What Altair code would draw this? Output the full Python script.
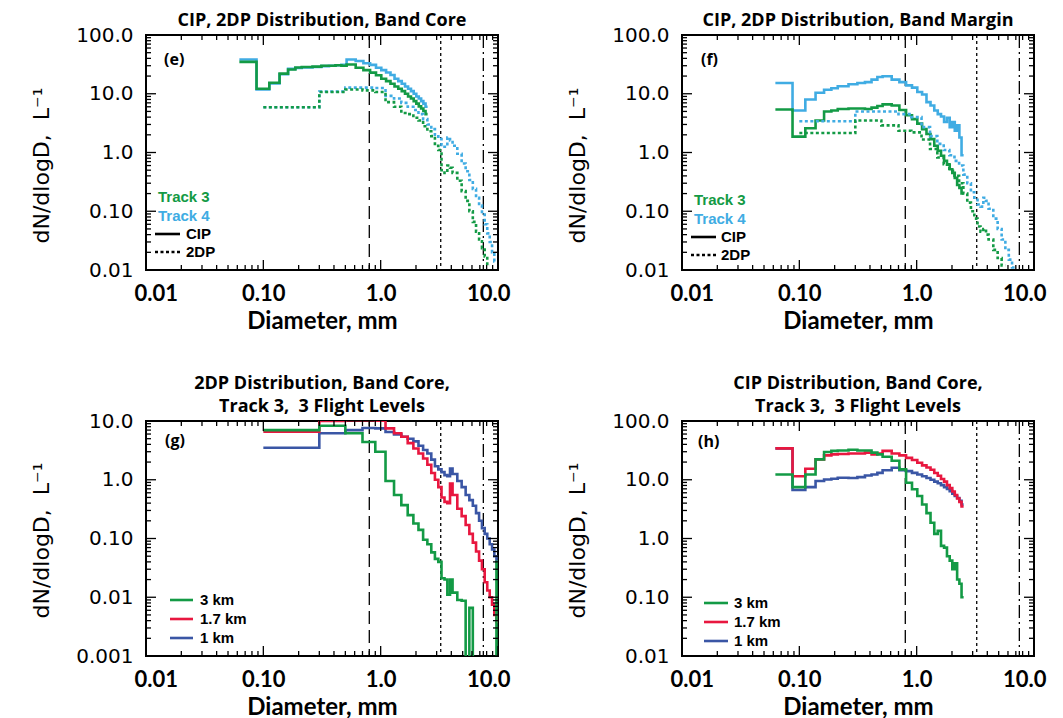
import altair as alt
import pandas as pd

# ---------------- data ----------------
CIP_EDGES = [0.0625, 0.0875, 0.1125, 0.1375, 0.1625, 0.1875, 0.2125, 0.2625, 0.3125, 0.3625,
             0.4125, 0.4625, 0.5125, 0.6125, 0.7125, 0.8125, 0.9125, 1.0125, 1.1125, 1.2125,
             1.3125, 1.4125, 1.5125, 1.6125, 1.7125, 1.8125, 1.9125, 2.0125, 2.1125, 2.2125,
             2.3125, 2.4125, 2.5125]
DP_EDGES = [0.1, 0.3, 0.5, 0.7, 0.9, 1.1, 1.3, 1.5, 1.7, 1.9, 2.1, 2.3, 2.5, 2.7, 2.9, 3.1,
            3.3, 3.5, 3.7, 3.9, 4.1, 4.5, 4.9, 5.3, 5.7, 6.1, 6.5, 6.9, 7.3, 7.7, 8.1, 8.5,
            8.9, 9.3, 9.7, 10.1]

# (e) band core
E_CIP_T3 = [34.9, 12.2, 15.4, 22.0, 25.8, 28.0, 28.5, 29.0, 30.0, 30.0, 30.5, 30.0, 31.4, 27.7,
            25.2, 22.9, 20.6, 18.0, 16.4, 14.8, 13.3, 12.2, 11.1, 10.0, 9.0, 8.3, 7.5, 6.8, 6.1,
            5.6, 5.1, 4.5]
E_CIP_T4 = [38.3, 11.8, 15.0, 21.5, 26.5, 27.5, 28.0, 28.5, 29.5, 30.0, 30.5, 31.0, 38.3, 36.0,
            33.0, 31.0, 27.7, 25.2, 23.0, 20.8, 18.0, 16.4, 14.8, 13.3, 12.2, 11.1, 10.0, 9.0,
            8.3, 7.5, 6.8, 6.0]
E_2DP_T3 = [5.9, 10.7, 11.8, 11.4, 10.7, 7.2, 6.0, 4.7, 4.5, 3.9, 3.5, 2.8, 2.3, 1.9, 1.3, 1.1,
            0.5, 0.45, 0.6, 0.55, 0.45, 0.33, 0.22, 0.15, 0.10, 0.066, 0.045, 0.033, 0.0235,
            0.017, 0.012, None, None, None, None]
E_2DP_T4 = [5.9, 10.9, 12.7, 12.7, 12.5, 9.2, 8.3, 7.0, 6.0, 5.3, 4.5, 3.7, 3.0, 2.5, 2.0, 1.7,
            1.35, 1.25, 1.8, 1.6, 1.3, 0.95, 0.65, 0.48, 0.34, 0.24, 0.17, 0.125, 0.088, 0.06,
            0.042, 0.03, 0.02, 0.014, None]

# (f) band margin
F_CIP_T3 = [5.4, 1.86, 2.58, 3.5, 5.0, 5.2, 5.5, 5.6, 5.6, 5.5, 5.8, 6.2, 6.6, 6.3, 5.3, 4.3,
            3.7, 3.1, 2.5, 2.06, 1.69, 1.3, 1.07, 0.88, 0.72, 0.62, 0.52, 0.45, 0.37, 0.28,
            0.25, 0.2]
F_CIP_T4 = [15.2, 5.2, 8.0, 10.4, 11.7, 12.4, 13.4, 14.5, 15.2, 15.8, 17.4, 19.3, 19.8, 17.4,
            15.8, 13.9, 12.7, 10.7, 9.7, 7.2, 6.3, 5.2, 4.5, 4.1, 3.3, 3.9, 2.7, 3.3, 2.35, 2.9,
            1.8, 0.9]
F_2DP_T3 = [2.15, 3.5, 2.9, 2.35, 2.2, 1.66, 1.15, 0.82, 0.63, 0.49, 0.4, 0.3, 0.2, 0.14, 0.1,
            0.075, 0.055, 0.045, 0.05, 0.04, 0.033, 0.022, 0.016, 0.012, None, None, None,
            None, None, None, None, None, None, None, None]
F_2DP_T4 = [3.4, 5.0, 5.0, 4.5, 4.0, 2.7, 1.9, 1.4, 1.1, 0.9, 0.72, 0.6, 0.42, 0.3, 0.21, 0.17,
            0.13, 0.12, 0.17, 0.15, 0.11, 0.075, 0.05, 0.033, 0.022, 0.015, 0.011, None, None,
            None, None, None, None, None, None]

# (g) 2DP, three flight levels (0.0001 = empty bin, below the axis)
G_3KM = [7.0, 8.3, 6.2, 4.4, 3.0, 0.95, 0.55, 0.37, 0.25, 0.18, 0.14, 0.095, 0.08, 0.058,
         0.045, 0.04, 0.021, 0.02, 0.011, 0.02, 0.012, 0.009, 0.0087, 0.0001, 0.0066, 0.0001,
         0.0001, 0.0001, 0.0001, 0.0001, 0.0001, 0.0001, 0.0001, 0.0001, 0.04]
G_17KM = [6.6, 10.0, 10.3, 10.3, 10.1, 7.5, 6.2, 5.4, 4.2, 3.4, 2.8, 2.3, 1.8, 1.3, 1.0, 0.75,
          0.5, 0.42, 0.4, 0.86, 0.55, 0.32, 0.24, 0.17, 0.12, 0.085, 0.06, 0.042, 0.03, 0.018,
          0.013, 0.01, 0.0075, 0.005, 0.0038]
G_1KM = [3.5, 6.2, 7.0, 7.6, 7.5, 6.5, 5.9, 5.4, 5.0, 4.5, 3.8, 3.2, 2.8, 2.2, 1.7, 1.5, 1.35,
         1.2, 1.15, 1.55, 1.25, 0.95, 0.75, 0.55, 0.45, 0.36, 0.27, 0.2, 0.15, 0.12, 0.1, 0.08,
         0.065, 0.05, 0.04]

# (h) CIP, three flight levels
H_3KM = [12.3, 7.5, 12.3, 22.2, 29.6, 31.0, 31.5, 32.4, 31.5, 31.5, 29.0, 27.0, 24.7, 21.0,
         15.0, 8.9, 6.9, 5.3, 3.8, 2.7, 1.85, 1.2, 1.35, 0.75, 0.7, 0.5, 0.42, 0.3, 0.38, 0.2,
         0.17, 0.1]
H_17KM = [34.2, 11.5, 15.4, 22.2, 26.0, 27.0, 27.5, 28.0, 28.0, 29.0, 27.0, 28.0, 31.0, 28.0,
          26.0, 23.6, 21.7, 19.5, 17.6, 16.2, 14.8, 13.0, 11.7, 10.3, 9.3, 8.1, 7.2, 6.3, 5.5,
          4.8, 4.2, 3.5]
H_1KM = [34.2, 6.7, 7.5, 9.5, 10.1, 10.4, 10.8, 10.7, 11.1, 11.8, 12.3, 13.1, 14.5, 16.0, 14.5,
         14.0, 13.1, 12.3, 11.5, 10.7, 10.0, 9.3, 8.7, 8.1, 7.5, 7.0, 6.4, 5.8, 5.3, 4.9, 4.4,
         3.8]

REF_LINES = [0.8, 3.25, 7.5]
REF_DASH = [[13, 6], [3, 3], [13, 4, 2, 4]]

X_MAJOR = [0.01, 0.1, 1, 10]
X_LABELS = ["0.01", "0.10", "1.0", "10.0"]
X_MINOR = [0.02, 0.03, 0.04, 0.05, 0.06, 0.07, 0.08, 0.09, 0.2, 0.3, 0.4, 0.5, 0.6, 0.7, 0.8,
           0.9, 2, 3, 4, 5, 6, 7, 8, 9]
Y_MAJOR_A = [0.01, 0.1, 1, 10, 100]
Y_LABELS_A = ["0.01", "0.10", "1.0", "10.0", "100.0"]
Y_MINOR_A = [0.02, 0.03, 0.04, 0.05, 0.06, 0.07, 0.08, 0.09, 0.2, 0.3, 0.4, 0.5, 0.6, 0.7, 0.8,
             0.9, 2, 3, 4, 5, 6, 7, 8, 9, 20, 30, 40, 50, 60, 70, 80, 90]
Y_MAJOR_B = [0.001, 0.01, 0.1, 1, 10]
Y_LABELS_B = ["0.001", "0.01", "0.10", "1.0", "10.0"]
Y_MINOR_B = [0.002, 0.003, 0.004, 0.005, 0.006, 0.007, 0.008, 0.009, 0.02, 0.03, 0.04, 0.05,
             0.06, 0.07, 0.08, 0.09, 0.2, 0.3, 0.4, 0.5, 0.6, 0.7, 0.8, 0.9, 2, 3, 4, 5, 6, 7,
             8, 9]

Y_TITLE = "dN/dlogD,\u00a0 L⁻¹"
X_TITLE = "Diameter, mm"

GREEN = "#139a45"
LBLUE = "#40ace3"
RED = "#e8173f"
BLUE = "#3a56a5"

W, H = 352, 235
LBL_FONT = "Open Sans"
AX_FONT = "Lato"
LEG_FONT = "Liberation Sans"
NUM_FONT = "DejaVu Sans"


def step_table(edges, values):
    rows, seg, last, open_ = [], 0, None, False
    for i, v in enumerate(values):
        if v is None:
            if open_:
                rows.append({"D": edges[i], "N": last, "seg": seg})
                seg += 1
                open_ = False
            continue
        rows.append({"D": edges[i], "N": v, "seg": seg})
        last, open_ = v, True
    if open_:
        rows.append({"D": edges[len(values)], "N": last, "seg": seg})
    return pd.DataFrame(rows)


def label_expr(vals, labels):
    expr = "'" + labels[-1] + "'"
    for v, l in reversed(list(zip(vals[:-1], labels[:-1]))):
        expr = f"datum.value < {v * 1.5} ? '{l}' : ({expr})"
    return expr


def panel(series, ydom, ymajor, ylabels, yminor, title, tag, texts, samples, title_y):
    xs = alt.Scale(type="log", domain=[0.01, 10], nice=False, zero=False)
    ys = alt.Scale(type="log", domain=ydom, nice=False, zero=False)
    xax = alt.Axis(values=X_MAJOR, labelExpr=label_expr(X_MAJOR, X_LABELS),
                   title=X_TITLE, ticks=False, domain=False, grid=False,
                   labelFont=AX_FONT, labelFontWeight="bold", labelFontSize=22,
                   labelColor="black", labelPadding=13, labelFlush=True, labelFlushOffset=12,
                   labelOverlap=False, titleFont=AX_FONT, titleFontWeight="bold",
                   titleFontSize=24, titleColor="black", titlePadding=5)
    yax = alt.Axis(values=ymajor, labelExpr=label_expr(ymajor, ylabels),
                   title=Y_TITLE, ticks=False, domain=False, grid=False,
                   labelFont=NUM_FONT, labelFontSize=20, labelColor="black", labelPadding=13,
                   labelOverlap=False, labelFlush=False,
                   titleFont=NUM_FONT, titleFontSize=22, titleFontWeight="normal",
                   titleColor="black", titlePadding=22, titleY=title_y)
    X = alt.X("D:Q", scale=xs, axis=xax)
    Y = alt.Y("N:Q", scale=ys, axis=yax)

    layers = []
    for xv, dash in zip(REF_LINES, REF_DASH):
        layers.append(alt.Chart(pd.DataFrame({"D": [xv]})).mark_rule(
            color="black", strokeWidth=1.3, strokeDash=dash).encode(x=X))
    for edges, vals, color, dash in series:
        mk = dict(interpolate="step-after", clip=True, color=color, strokeWidth=2.6)
        if dash:
            mk["strokeDash"] = [3, 2.5]
        layers.append(alt.Chart(step_table(edges, vals)).mark_line(**mk).encode(
            x=X, y=Y, detail="seg:N", order="D:Q"))
    for vals, ln in ((X_MAJOR, 10), (X_MINOR, 5)):
        d = pd.DataFrame({"D": vals})
        layers.append(alt.Chart(d).mark_rule(color="black", strokeWidth=1.3).encode(
            x=X, y=alt.value(H), y2=alt.value(H - ln)))
        layers.append(alt.Chart(d).mark_rule(color="black", strokeWidth=1.3).encode(
            x=X, y=alt.value(0), y2=alt.value(ln)))
    for vals, ln in ((ymajor, 10), (yminor, 5)):
        d = pd.DataFrame({"N": vals})
        layers.append(alt.Chart(d).mark_rule(color="black", strokeWidth=1.3).encode(
            y=Y, x=alt.value(0), x2=alt.value(ln)))
        layers.append(alt.Chart(d).mark_rule(color="black", strokeWidth=1.3).encode(
            y=Y, x=alt.value(W), x2=alt.value(W - ln)))
    layers.append(alt.Chart(pd.DataFrame({"t": [tag[0]]})).mark_text(
        align="left", baseline="middle", font=LBL_FONT, fontWeight="bold", fontSize=16,
        color="black").encode(text="t:N", x=alt.value(tag[1]), y=alt.value(tag[2])))
    for txt, color, tx, ty in texts:
        layers.append(alt.Chart(pd.DataFrame({"t": [txt]})).mark_text(
            align="left", baseline="middle", font=LEG_FONT, fontWeight="bold", fontSize=15,
            color=color).encode(text="t:N", x=alt.value(tx), y=alt.value(ty)))
    for color, dash, x1, x2, yy in samples:
        mk = dict(color=color, strokeWidth=2.6)
        if dash:
            mk["strokeDash"] = [3, 2.5]
        layers.append(alt.Chart(pd.DataFrame({"k": [0]})).mark_rule(**mk).encode(
            x=alt.value(x1), x2=alt.value(x2), y=alt.value(yy)))

    return alt.layer(*layers).properties(
        width=W, height=H,
        title=alt.TitleParams(text=title, font=LBL_FONT, fontSize=18, fontWeight="bold",
                              color="black", offset=-5, anchor="middle", lineHeight=23))


pe = panel(
    [(CIP_EDGES, E_CIP_T4, LBLUE, False), (CIP_EDGES, E_CIP_T3, GREEN, False),
     (DP_EDGES, E_2DP_T4, LBLUE, True), (DP_EDGES, E_2DP_T3, GREEN, True)],
    [0.01, 100], Y_MAJOR_A, Y_LABELS_A, Y_MINOR_A,
    "CIP, 2DP Distribution, Band Core", ("(e)", 18, 25),
    [("Track 3", GREEN, 12, 162), ("Track 4", LBLUE, 12, 181), ("CIP", "black", 40, 199),
     ("2DP", "black", 40, 217)],
    [("black", False, 9, 34, 199), ("black", True, 9, 34, 217)], 130)

pf = panel(
    [(CIP_EDGES, F_CIP_T4, LBLUE, False), (CIP_EDGES, F_CIP_T3, GREEN, False),
     (DP_EDGES, F_2DP_T4, LBLUE, True), (DP_EDGES, F_2DP_T3, GREEN, True)],
    [0.01, 100], Y_MAJOR_A, Y_LABELS_A, Y_MINOR_A,
    "CIP, 2DP Distribution, Band Margin", ("(f)", 19, 25),
    [("Track 3", GREEN, 12, 165), ("Track 4", LBLUE, 12, 184), ("CIP", "black", 39, 202),
     ("2DP", "black", 39, 220)],
    [("black", False, 9, 34, 202), ("black", True, 9, 34, 220)], 130)

pg = panel(
    [(DP_EDGES, G_1KM, BLUE, False), (DP_EDGES, G_17KM, RED, False),
     (DP_EDGES, G_3KM, GREEN, False)],
    [0.001, 10], Y_MAJOR_B, Y_LABELS_B, Y_MINOR_B,
    ["2DP Distribution, Band Core,", "Track 3,\u00a0 3 Flight Levels"], ("(g)", 19, 20),
    [("3 km", "black", 54, 179), ("1.7 km", "black", 54, 198), ("1 km", "black", 54, 217)],
    [(GREEN, False, 24, 47, 179), (RED, False, 24, 47, 198), (BLUE, False, 24, 47, 217)],
    119)

ph = panel(
    [(CIP_EDGES, H_1KM, BLUE, False), (CIP_EDGES, H_17KM, RED, False),
     (CIP_EDGES, H_3KM, GREEN, False)],
    [0.01, 100], Y_MAJOR_A, Y_LABELS_A, Y_MINOR_A,
    ["CIP Distribution, Band Core,", "Track 3,\u00a0 3 Flight Levels"], ("(h)", 16, 21),
    [("3 km", "black", 52, 182), ("1.7 km", "black", 52, 201), ("1 km", "black", 52, 220)],
    [(GREEN, False, 22, 46, 182), (RED, False, 22, 46, 201), (BLUE, False, 22, 46, 220)],
    119)

top = alt.hconcat(pe, pf, spacing=54).resolve_scale(x="independent", y="independent")
bottom = alt.hconcat(pg, ph, spacing=54).resolve_scale(x="independent", y="independent")
chart = alt.vconcat(top, bottom, spacing=40).resolve_scale(
    x="independent", y="independent"
).properties(
    padding={"left": 21, "top": 3, "right": 0, "bottom": 0}
).configure_view(stroke="black", strokeWidth=2)

chart.save("out.html", embed_options={"renderer": "svg", "actions": False})
